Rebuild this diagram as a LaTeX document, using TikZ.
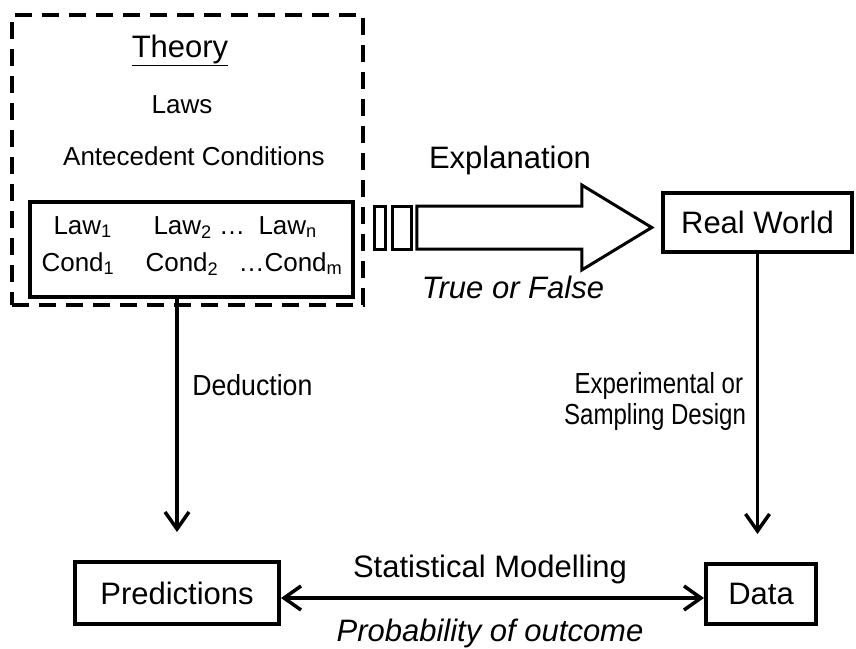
\documentclass[tikz,border=0pt]{standalone}
\usepackage{fontspec}
\setmainfont{Liberation Sans}
\usetikzlibrary{arrows.meta,calc,positioning}

\begin{document}
\begin{tikzpicture}[x=1pt, y=-1pt,
    big/.style={font=\fontsize{31}{37}\selectfont},
    small/.style={font=\fontsize{26}{31}\selectfont},
    side/.style={font=\fontsize{29}{34}\selectfont, transform shape},
    box/.style={draw, line width=4pt, inner sep=0pt, big},
    flow/.style={line width=3.5pt, -{Straight Barb[length=17pt,width=24pt]}},
    outline/.style={draw, line width=3pt, line join=miter}]
\useasboundingbox (0,0) rectangle (856,648);
% theory block
\node[draw, line width=3.5pt, dash pattern=on 17pt off 10pt,
      minimum width=351pt, minimum height=290pt, inner sep=0pt] (theory) at (187.5,160) {};
\node[big, anchor=base] (title) at (180,57) {\underline{Theory}};
\node[small, anchor=base] (laws) at (182,113) {Laws};
\node[small, anchor=base] (ante) at (194,165) {Antecedent Conditions};
\node[draw, line width=4pt, minimum width=323pt, minimum height=95pt, inner sep=0pt] (inner) at (191.5,249) {};
\node[small, anchor=base west] (law1) at (50,234) {Law\textsubscript{1}};
\node[small, anchor=base west] (law2) at (150,234) {Law\textsubscript{2} …};
\node[small, anchor=base west] (lawn) at (255,234) {Law\textsubscript{n}};
\node[small, anchor=base west] (cond1) at (38,271) {Cond\textsubscript{1}};
\node[small, anchor=base west] (cond2) at (142,271) {Cond\textsubscript{2}};
\node[small, anchor=base west] (condm) at (235,271) {…Cond\textsubscript{m}};
% boxes
\node[box, minimum width=189pt, minimum height=59pt] (real) at (757.5,222.5) {Real World};
\node[box, minimum width=204pt, minimum height=62pt] (pred) at (177,593) {Predictions};
\node[box, minimum width=110pt, minimum height=60pt] (data) at (761,594) {Data};
% explanation arrow
\coordinate (fat) at ($(theory.east |- real.west)+(10,5)$);
\draw[outline] ($(fat)+(0,-21.5)$) rectangle ++(11,43);
\draw[outline] ($(fat)+(18,-21.5)$) rectangle ++(19,43);
\draw[outline] ($(fat)+(42,-21.5)$) -- ++(165,0) -- ++(0,-21) -- ++(70,42.5)
    -- ++(-70,42.5) -- ++(0,-21) -- ++(-165,0) -- cycle;
\node[big, anchor=base] (expl) at (510,168) {Explanation};
\node[big, anchor=base] (truth) at (513,298) {\itshape True or False};
% deduction and design
\draw[flow, shorten >=28pt] (inner.south -| pred.north) -- (pred.north);
\node[side, xscale=0.92, anchor=base west] (deduc) at (189,395) {Deduction};
\draw[flow, shorten >=28pt] (real.south) -- (real.south |- data.north);
\node[side, xscale=0.83, anchor=base east] (design1) at (746,393) {Experimental or};
\node[side, xscale=0.83, anchor=base east] (design2) at (749,424) {Sampling Design};
% statistical modelling
\coordinate (sm) at ($(pred.east)+(0,5)$);
\draw[line width=3.5pt, {Straight Barb[length=17pt,width=24pt]}-{Straight Barb[length=17pt,width=24pt]}]
    (sm) -- (sm -| data.west);
\node[big, anchor=base] (stat) at (490,577) {Statistical Modelling};
\node[big, anchor=base] (prob) at (490,641) {\itshape Probability of outcome};
\end{tikzpicture}
\end{document}
